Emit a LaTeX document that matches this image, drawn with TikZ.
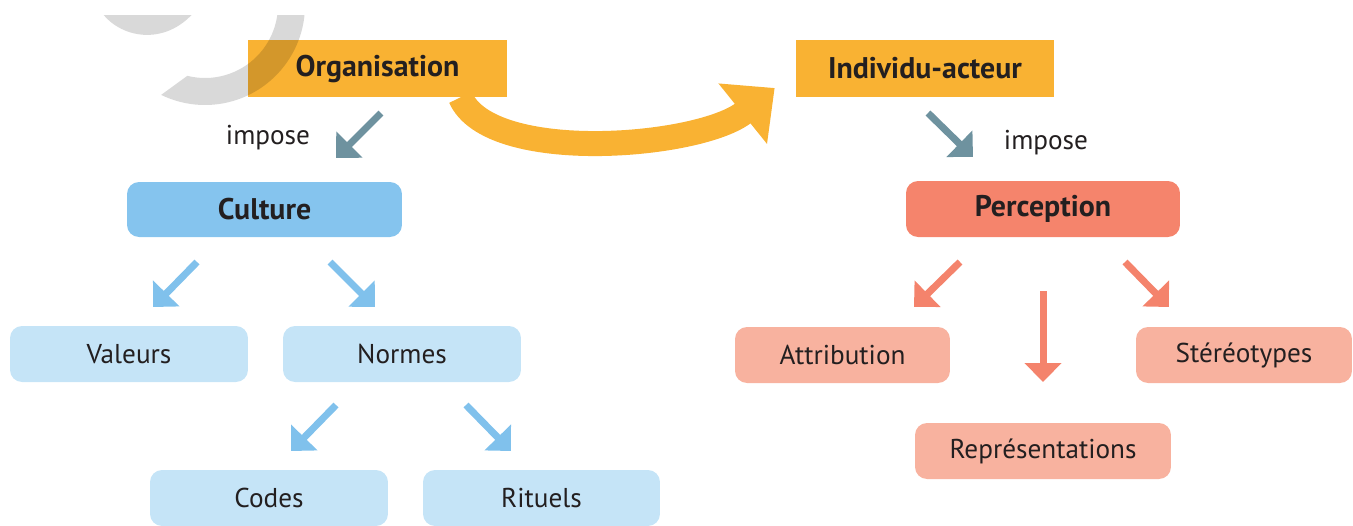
\documentclass[tikz,border=0pt]{standalone}
\usepackage{fontspec}
\setmainfont{PT Sans}
\usetikzlibrary{arrows.meta,calc}

\definecolor{orgorange}{HTML}{F9B233}
\definecolor{imparrow}{HTML}{6E929F}
\definecolor{culblue}{HTML}{85C4EE}
\definecolor{lightblue}{HTML}{C5E4F7}
\definecolor{bluearrow}{HTML}{80C1EC}
\definecolor{persalmon}{HTML}{F5846C}
\definecolor{lightsalmon}{HTML}{F8B29F}
\definecolor{salmonarrow}{HTML}{F4836C}
\definecolor{textcol}{HTML}{231F20}

\tikzset{
  box/.style={rounded corners=0.24cm, minimum width=4.76cm, minimum height=1.12cm,
    inner sep=0pt, text=textcol, font=\fontsize{15.5}{18}\selectfont},
  mainbox/.style={box, font=\fontsize{17}{20}\selectfont\bfseries},
  arr/.style={line width=0.14cm, -{Triangle[length=0.38cm,width=0.72cm]}},
}

\begin{document}
\begin{tikzpicture}[x=0.02cm,y=-0.02cm]
  \useasboundingbox (0,0) rectangle (1353,525);

  % top row
  \node[mainbox, sharp corners, fill=orgorange, minimum width=5.18cm, minimum height=1.14cm]
    (org) at (377.5,68.5) {Organisation};
  \node[mainbox, sharp corners, fill=orgorange, minimum width=5.16cm, minimum height=1.14cm]
    (ind) at (925,68.5) {Individu-acteur};

  % culture side
  \node[mainbox, fill=culblue, minimum width=5.5cm, minimum height=1.1cm] (cul) at (264.5,209.5) {Culture};
  \node[box, fill=lightblue] (val) at (129,354) {Valeurs};
  \node[box, fill=lightblue] (nor) at (402,354) {Normes};
  \node[box, fill=lightblue] (cod) at (269,498) {Codes};
  \node[box, fill=lightblue, minimum width=4.74cm] (rit) at (541.5,498) {Rituels};

  % perception side
  \node[mainbox, fill=persalmon, minimum width=5.48cm] (per) at (1043,209) {Perception};
  \node[box, fill=lightsalmon, minimum width=4.3cm] (att) at (842.5,355) {Attribution};
  \node[box, fill=lightsalmon, minimum width=4.32cm] (ste) at (1244,355) {Stéréotypes};
  \node[box, fill=lightsalmon, minimum width=5.12cm] (rep) at (1043,451) {Représentations};

  \node[text=textcol, font=\fontsize{15.5}{18}\selectfont] (imp1) at (268,138) {impose};
  \node[text=textcol, font=\fontsize{15.5}{18}\selectfont] (imp2) at (1046,143) {impose};

  % big curved arrow
  \draw[orgorange, line width=0.5cm, -{Triangle[length=0.82cm,width=1.5cm]}]
    ([xshift=1.66cm]org.south) .. controls (490,165) and (700,148) .. ($(ind.west)+(-21,19.5)$);

  % arrow ends
  \coordinate (i1a) at (381,113); \coordinate (i1b) at (336,158);
  \coordinate (i2a) at (928,113); \coordinate (i2b) at (973,157);
  \coordinate (cva) at (197,262); \coordinate (cvb) at (153,307);
  \coordinate (cna) at (330,262); \coordinate (cnb) at (375,307);
  \coordinate (nca) at (336,405); \coordinate (ncb) at (291,451);
  \coordinate (nra) at (466,405); \coordinate (nrb) at (511,451);
  \coordinate (paa) at (960,262); \coordinate (pab) at (914,307);
  \coordinate (pra) at (1043,291); \coordinate (prb) at (1043,382);
  \coordinate (psa) at (1125,262); \coordinate (psb) at (1169,307);

  \draw[arr, imparrow] (i1a) -- (i1b);
  \draw[arr, imparrow] (i2a) -- (i2b);
  \draw[arr, bluearrow] (cva) -- (cvb);
  \draw[arr, bluearrow] (cna) -- (cnb);
  \draw[arr, bluearrow] (nca) -- (ncb);
  \draw[arr, bluearrow] (nra) -- (nrb);
  \draw[arr, salmonarrow] (paa) -- (pab);
  \draw[arr, salmonarrow] (pra) -- (prb);
  \draw[arr, salmonarrow] (psa) -- (psb);

  % grey mark at the top left
  \begin{scope}
    \clip (0,15) rectangle (330,130);
    \fill[black, opacity=0.15] (205,5) ++(-10:100) arc[start angle=-10, end angle=116, radius=100]
      -- ($(205,5)+(104:73)$) arc[start angle=104, end angle=-10, radius=73] -- cycle;
    \fill[black, opacity=0.15] (100,10) .. controls (118,38) and (165,48) .. (196,10) -- cycle;
  \end{scope}
\end{tikzpicture}
\end{document}
